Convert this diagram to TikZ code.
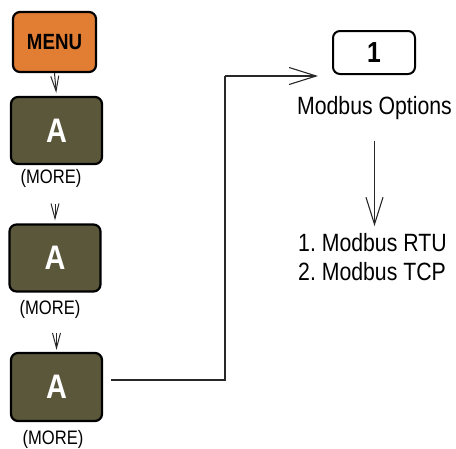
\documentclass[tikz,border=0pt]{standalone}
\usepackage{fontspec}
\setmainfont[FakeStretch=0.85]{Liberation Sans}
\usepackage{tikz}
\usetikzlibrary{arrows.meta,positioning}
\definecolor{menuorange}{RGB}{226,126,52}
\definecolor{keyolive}{RGB}{91,87,58}
\definecolor{wiregray}{RGB}{40,40,40}
\frenchspacing
\begin{document}
\begin{tikzpicture}[x=1pt,y=-1pt,
key/.style={draw=black,line width=2.2pt,rounded corners=7pt,fill=keyolive,text=white,font=\fontsize{34}{34}\bfseries\selectfont,minimum width=91pt,minimum height=67pt,inner sep=0pt},
more/.style={font=\fontsize{19.5}{19.5}\selectfont,inner sep=1pt},
plain/.style={font=\fontsize{25}{29}\selectfont,inner sep=1pt},
small/.style={-{Straight Barb[length=15pt,width=8pt,line width=1pt]},line width=1pt,draw=wiregray},
big/.style={-{Straight Barb[length=27pt,width=17pt,line width=1.1pt]},line width=1.1pt,draw=wiregray}]
\useasboundingbox(0,0)rectangle(456,448);

\node[key,fill=menuorange,text=black,font=\fontsize{22}{22}\bfseries\selectfont,minimum width=83pt,minimum height=60pt] (menu)at(54.5,42){MENU};
\node[key] (a1)at(56.5,130.5){A};
\node[more] (more1)at(51,178){(MORE)};
\node[key] (a2)at(55,258){A};
\node[more] (more2)at(50,309){(MORE)};
\node[key,minimum height=68pt] (a3)at(56.5,387){A};
\node[more] (more3)at(53,439){(MORE)};

\node[draw=black,line width=2pt,rounded corners=7pt,font=\fontsize{29}{29}\bfseries\selectfont,minimum width=82pt,minimum height=43pt,inner sep=0pt] (one)at(374,52.5){1};
\node[plain] (opts)at(374.5,108){Modbus Options};
\node[plain,align=left,anchor=west] (list)at(297,257){1. Modbus RTU\\2. Modbus TCP};

\coordinate (bend)at(225,76);
\coordinate (tip)at(318,76);

\draw[small,shorten >=3pt](menu.south)--(a1.north);
\draw[small,shorten <=16pt,shorten >=3pt](more1.south-|a2.north)--(a2.north);
\draw[small,shorten <=14pt,shorten >=2pt](more2.south-|a3.north)--(a3.north);
\draw[line width=1.1pt,draw=wiregray,-](a3.east)++(8,-7)coordinate(out)--(out-|bend)--(bend);
\draw[big](bend)--(tip);
\draw[big,shorten <=20pt,shorten >=6pt](opts.south)--(opts.south|-list.north);
\end{tikzpicture}
\end{document}
